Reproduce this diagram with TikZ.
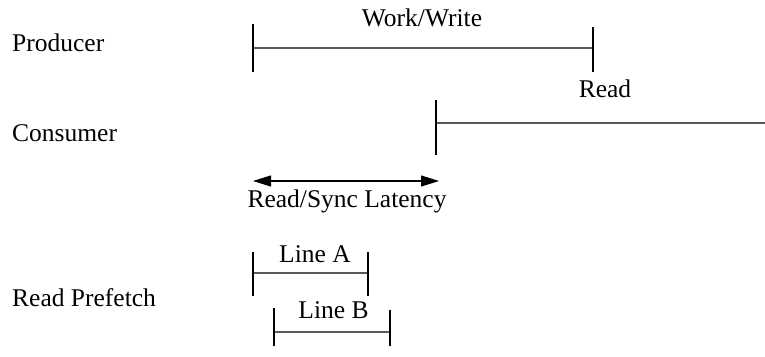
\documentclass[tikz,border=0pt]{standalone}
\usepackage{fontspec}
\setmainfont{Liberation Serif}
\usetikzlibrary{arrows.meta}
\begin{document}
\begin{tikzpicture}[x=1pt,y=-1pt,
  lbl/.style={font=\fontsize{25.5}{30}\selectfont, inner sep=0pt, anchor=base},
  rowlbl/.style={lbl, anchor=base west},
  span/.style={draw=black!65, line width=1.1pt},
  tick/.style={draw=black, line width=1.5pt},
  latency/.style={draw=black, line width=1.1pt, {Triangle[length=18pt,width=11pt]}-{Triangle[length=18pt,width=11pt]}}]
\useasboundingbox (0,0) rectangle (765,356);

% row labels
\node[rowlbl] (prod) at (12,51) {Producer};
\node[rowlbl] (cons) at (12,141) {Consumer};
\node[rowlbl] (pref) at (12,306) {Read Prefetch};

% producer: work/write interval
\coordinate (p1) at (253,48);
\coordinate (p2) at (593,48);
\draw[span] (p1) -- (p2);
\draw[tick] (253,24) -- (253,72);
\draw[tick] (593,27) -- (593,72);
\node[lbl] (ww) at (422,26) {Work/Write};
\node[lbl] (rd) at (605,97) {Read};

% consumer: reading from the sync point onwards
\coordinate (c1) at (436,123);
\coordinate (c2) at (765,123);
\draw[span] (c1) -- (c2);
\draw[tick] (436,100) -- (436,155);

% read/sync latency
\coordinate (l1) at (253,181);
\coordinate (l2) at (439,181);
\draw[latency] (l1) -- (l2);
\node[lbl] (lat) at (347,207) {Read/Sync Latency};

% prefetched lines
\coordinate (a1) at (253,273);
\coordinate (a2) at (368,273);
\draw[span] (a1) -- (a2);
\draw[tick] (253,252) -- (253,296);
\draw[tick] (368,252) -- (368,296);
\node[lbl] (la) at (315,262) {Line A};

\coordinate (b1) at (274,332);
\coordinate (b2) at (390,332);
\draw[span] (b1) -- (b2);
\draw[tick] (274,308) -- (274,346);
\draw[tick] (390,310) -- (390,346);
\node[lbl] (lb) at (333.5,318) {Line B};
\end{tikzpicture}
\end{document}
